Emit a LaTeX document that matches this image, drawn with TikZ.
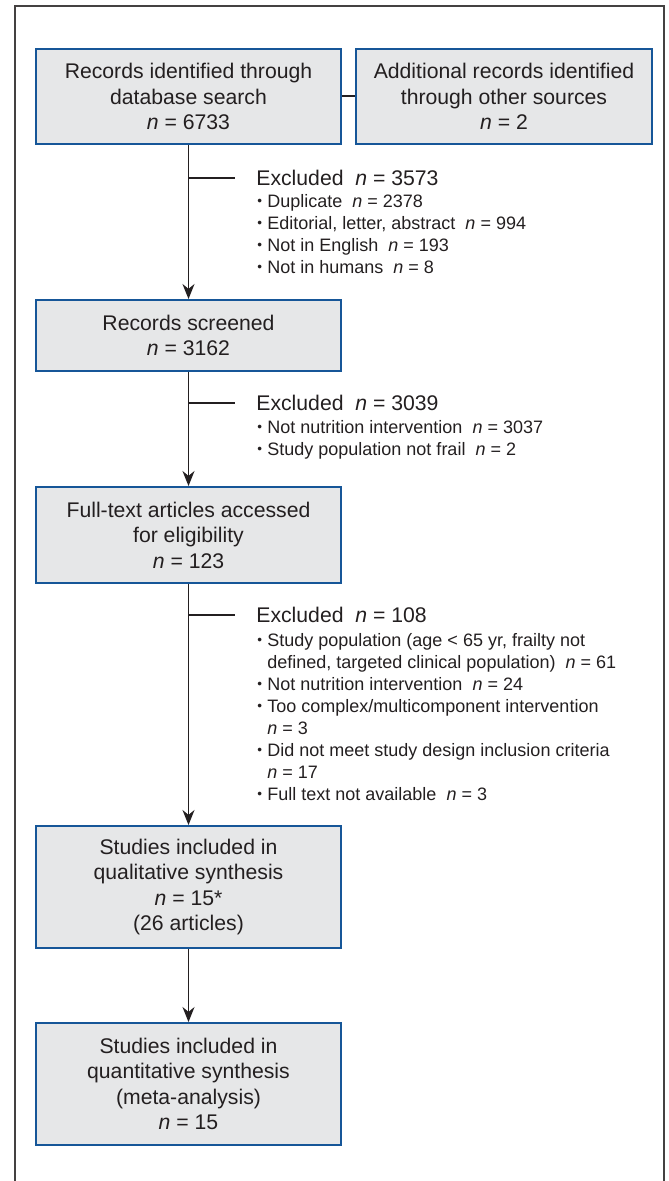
\documentclass[tikz,border=0pt]{standalone}
\usepackage{fontspec}
\setmainfont{Liberation Sans}
\usepackage{graphicx}
\usepackage{tikz}
\usetikzlibrary{arrows.meta,calc,positioning}
\definecolor{boxblue}{RGB}{22,86,152}
\definecolor{boxgray}{RGB}{230,231,232}
\definecolor{inkgray}{RGB}{35,31,32}
\newcommand{\blt}{\makebox[5pt][l]{\raisebox{0.2ex}{\scalebox{0.75}{\textbullet}}}}
\newcommand{\nn}{\textit{n}}

\begin{document}
\begin{tikzpicture}[x=0.5pt,y=-0.5pt,
    box/.style={draw=boxblue,fill=boxgray,line width=1pt,inner sep=0pt,align=center,
        text=inkgray,font=\fontsize{10.6}{12.75}\selectfont,minimum width=152.5pt},
    excl/.style={anchor=west,inner sep=0pt,text=inkgray,font=\fontsize{10.6}{12.75}\selectfont},
    bullets/.style={anchor=west,inner sep=0pt,align=left,text=inkgray,font=\fontsize{9}{11}\selectfont},
    flow/.style={-{Stealth[length=7.5pt,width=6pt]},line width=0.6pt,draw=inkgray},
    branch/.style={line width=1pt,draw=inkgray,shorten >=10.5pt},
    frame/.style={line width=0.8pt,draw=inkgray!85}]
    \useasboundingbox (0,0) rectangle (668,1181);
    %Frame
    \draw[frame] (15,1181) -- (15,6) -- (664,6) -- (664,1181);
    %Boxes
    \node[box,minimum height=47.5pt] (rec) at (188.5,96.5)
        {Records identified through\\database search\\\nn{} = 6733};
    \node[box,minimum height=47.5pt,minimum width=148pt] (add) at (504,96.5)
        {Additional records identified\\through other sources\\\nn{} = 2};
    \node[box,minimum height=35.5pt] (scr) at (188.5,335.5)
        {Records screened\\\nn{} = 3162};
    \node[box,minimum height=48pt] (full) at (188.5,535)
        {Full-text articles accessed\\for eligibility\\\nn{} = 123};
    \node[box,minimum height=61pt] (qual) at (188.5,887)
        {Studies included in\\qualitative synthesis\\\nn{} = 15*\\(26 articles)};
    \node[box,minimum height=61pt] (quant) at (188.5,1084)
        {Studies included in\\quantitative synthesis\\(meta-analysis)\\\nn{} = 15};
    %Exclusions
    \node[excl] (ex1) at (256,178) {Excluded\ \ \nn{} = 3573};
    \node[bullets] (bl1) at (257,234) {\blt Duplicate\ \ \nn{} = 2378\\
        \blt Editorial, letter, abstract\ \ \nn{} = 994\\
        \blt Not in English\ \ \nn{} = 193\\
        \blt Not in humans\ \ \nn{} = 8};
    \node[excl] (ex2) at (256,403) {Excluded\ \ \nn{} = 3039};
    \node[bullets] (bl2) at (257,440) {\blt Not nutrition intervention\ \ \nn{} = 3037\\
        \blt Study population not frail\ \ \nn{} = 2};
    \node[excl] (ex3) at (256,615) {Excluded\ \ \nn{} = 108};
    \node[bullets] (bl3) at (257,717) {\blt Study population (age < 65 yr, frailty not\\
        \hspace*{5pt}defined, targeted clinical population)\ \ \nn{} = 61\\
        \blt Not nutrition intervention\ \ \nn{} = 24\\
        \blt Too complex/multicomponent intervention\\
        \hspace*{5pt}\nn{} = 3\\
        \blt Did not meet study design inclusion criteria\\
        \hspace*{5pt}\nn{} = 17\\
        \blt Full text not available\ \ \nn{} = 3};
    %Connectors
    \draw[branch,shorten >=0pt] (rec.east) -- (add.west);
    \draw[flow] (rec.south) -- (scr.north);
    \draw[flow] (scr.south) -- (full.north);
    \draw[flow] (full.south) -- (qual.north);
    \draw[flow] (qual.south) -- (quant.north);
    \draw[branch] (ex1.west -| rec.south) -- (ex1.west);
    \draw[branch] (ex2.west -| rec.south) -- (ex2.west);
    \draw[branch] (ex3.west -| rec.south) -- (ex3.west);
\end{tikzpicture}
\end{document}
